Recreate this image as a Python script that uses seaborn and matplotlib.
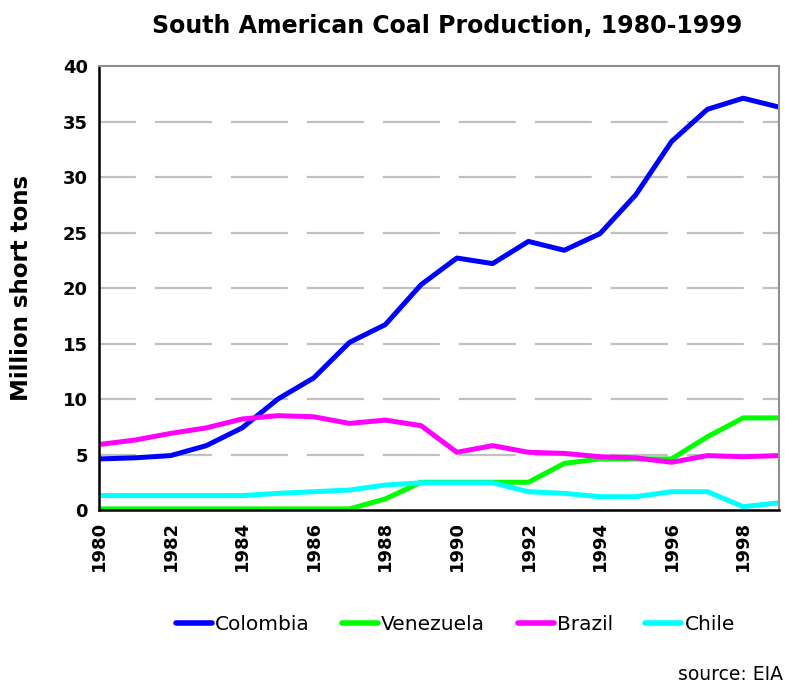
import matplotlib
matplotlib.use("Agg")
import matplotlib.pyplot as plt
import seaborn as sns
import pandas as pd
from matplotlib.lines import Line2D

# Annual coal production, million short tons
years = list(range(1980, 2000))
colombia = [4.6, 4.7, 4.9, 5.8, 7.4, 10.0, 11.9, 15.1, 16.7, 20.3,
            22.7, 22.2, 24.2, 23.4, 24.9, 28.4, 33.2, 36.1, 37.1, 36.3]
venezuela = [0.1, 0.1, 0.1, 0.1, 0.1, 0.1, 0.1, 0.1, 1.0, 2.5,
             2.5, 2.5, 2.5, 4.2, 4.6, 4.6, 4.6, 6.6, 8.3, 8.3]
brazil = [5.9, 6.3, 6.9, 7.4, 8.2, 8.5, 8.4, 7.8, 8.1, 7.6,
          5.2, 5.8, 5.2, 5.1, 4.8, 4.7, 4.3, 4.9, 4.8, 4.9]
chile = [1.3, 1.3, 1.3, 1.3, 1.3, 1.5, 1.65, 1.8, 2.25, 2.45,
         2.45, 2.45, 1.65, 1.5, 1.2, 1.2, 1.65, 1.65, 0.3, 0.65]

countries = ["Colombia", "Venezuela", "Brazil", "Chile"]
colors = ["#0000FF", "#00FF00", "#FF00FF", "#00FFFF"]
y_ticks = [0, 5, 10, 15, 20, 25, 30, 35, 40]
x_labels = list(range(1980, 2000, 2))

df = pd.DataFrame({
    "Year": years * 4,
    "Production": colombia + venezuela + brazil + chile,
    "Country": sum([[c] * len(years) for c in countries], []),
})

sns.set_style("white")
plt.rcParams["font.family"] = ["DejaVu Sans"]
plt.rcParams["text.color"] = "black"
plt.rcParams["axes.labelcolor"] = "black"
plt.rcParams["xtick.color"] = "black"
plt.rcParams["ytick.color"] = "black"
plt.rcParams["lines.scale_dashes"] = False

fig = plt.figure(figsize=(7.85, 6.92), dpi=100)
ax = fig.add_axes([0.1261, 0.263, 0.8662, 0.6416])

sns.lineplot(data=df, x="Year", y="Production", hue="Country",
             hue_order=countries, palette=colors, linewidth=3.6,
             legend=False, ax=ax)

ax.set_xlim(1980, 1999)
ax.set_ylim(0, 40)
ax.set_yticks(y_ticks)
ax.set_yticklabels([str(v) for v in y_ticks], fontsize=13, fontweight="bold")
ax.set_xticks(years)
ax.set_xticklabels([str(y) if y in x_labels else "" for y in years],
                   rotation=90, fontsize=13, fontweight="bold")
ax.tick_params(axis="both", direction="out", length=5, width=1.5,
               color="black", pad=3)

# long dashed horizontal gridlines
for v in y_ticks[1:-1]:
    ax.axhline(v, color="#C0C0C0", linewidth=1.6,
               linestyle=(14.4, (41, 13.7)), zorder=0)

for side in ["left", "bottom"]:
    ax.spines[side].set_color("black")
    ax.spines[side].set_linewidth(1.8)
for side in ["top", "right"]:
    ax.spines[side].set_color("#909090")
    ax.spines[side].set_linewidth(1.5)

ax.set_xlabel("")
ax.set_ylabel("Million short tons", fontsize=16.5, fontweight="bold")
ax.yaxis.set_label_coords(-0.097, 0.5)
fig.text(0.569, 0.963, "South American Coal Production, 1980-1999",
         ha="center", va="center", fontsize=17, fontweight="bold")

handles = [Line2D([0], [0], color=c, linewidth=4) for c in colors]
fig.legend(handles, countries, loc="center", bbox_to_anchor=(0.58, 0.097),
           ncol=4, frameon=False, fontsize=14.5, handlelength=1.8,
           handletextpad=0.15, columnspacing=1.6)

fig.text(0.997, 0.012, "source: EIA", ha="right", va="bottom", fontsize=13.5)

fig.savefig("out.png", dpi=100)
